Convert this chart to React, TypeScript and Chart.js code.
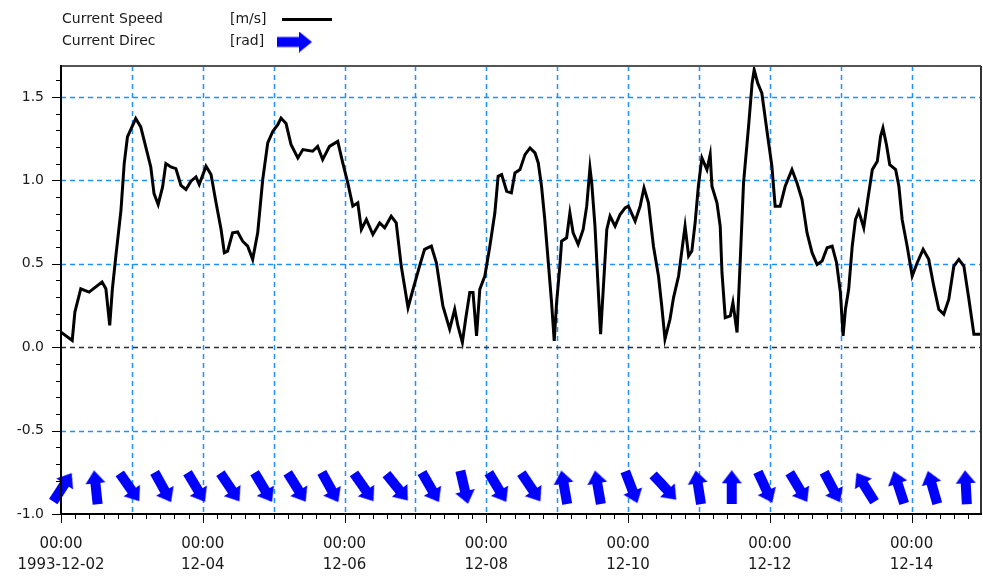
import React, { useEffect, useRef } from 'react';
import { Chart, registerables } from 'chart.js';

Chart.register(...registerables);

const W = 983;
const H = 579;

// ---- data (hours since 1993-12-02 00:00) ----
const speedHours = [
  0, 3.8, 4.7, 6.7, 9.5, 13.9, 15.2, 16.5, 17.4, 18.6,
  20.3, 21.4, 22.5, 25.3, 27.0, 28.7, 30.4, 31.5, 32.9, 34.4,
  35.5, 37.2, 38.9, 40.6, 42.3, 44.0, 45.7, 46.8, 49.1, 50.8,
  52.5, 54.2, 55.3, 56.4, 58.1, 59.8, 61.5, 63.2, 64.9, 66.6,
  68.3, 70.0, 71.7, 73.4, 74.5, 76.2, 77.9, 80.2, 81.9, 85.2,
  86.9, 88.6, 90.9, 93.7, 95.4, 97.1, 98.8, 100.5, 101.7, 103.4,
  105.6, 107.9, 109.6, 111.8, 113.5, 115.2, 117.5, 119.2, 121.4, 123.1,
  125.4, 127.1, 129.3, 131.6, 133.3, 134.4, 135.9, 137.0, 138.4, 139.5,
  140.7, 141.8, 143.5, 145.2, 146.9, 148.0, 149.2, 150.9, 152.5, 153.7,
  155.4, 157.1, 158.8, 160.5, 161.6, 162.7, 163.8, 165.0, 166.1, 167.0,
  167.8, 168.9, 169.5, 171.2, 172.3, 173.4, 175.1, 176.8, 178.0, 179.1,
  179.7, 180.8, 181.9, 182.7, 183.6, 184.8, 185.9, 187.6, 189.3, 191.0,
  192.1, 194.4, 196.1, 197.4, 198.9, 200.6, 202.3, 203.4, 204.5, 206.2,
  207.4, 209.1, 210.2, 211.3, 212.5, 213.6, 214.7, 215.8, 217.0, 218.7,
  219.8, 220.4, 222.1, 223.2, 223.8, 224.9, 226.6, 227.5, 228.9, 230.0,
  231.1, 232.8, 234.0, 234.7, 235.9, 237.3, 239.0, 240.7, 241.8, 243.5,
  245.2, 247.5, 249.2, 250.9, 252.6, 254.3, 256.0, 257.7, 259.4, 261.1,
  262.6, 263.9, 264.8, 265.6, 266.7, 267.9, 269.0, 270.1, 271.8, 273.0,
  274.7, 276.4, 277.5, 278.3, 279.5, 280.6, 282.6, 283.7, 284.8, 286.5,
  288.2, 289.9, 291.9, 293.8, 295.5, 297.2, 298.9, 300.6, 302.3, 304.0,
  305.7, 307.4, 309.1, 311.9,
];

const speedValues = [
  0.09, 0.04, 0.21, 0.35, 0.33, 0.39, 0.35, 0.13, 0.35, 0.55,
  0.82, 1.10, 1.26, 1.37, 1.32, 1.20, 1.08, 0.92, 0.855, 0.96,
  1.10, 1.08, 1.07, 0.97, 0.945, 0.995, 1.02, 0.975, 1.085, 1.035,
  0.865, 0.705, 0.566, 0.575, 0.685, 0.69, 0.635, 0.605, 0.526, 0.685,
  1.004, 1.224, 1.293, 1.333, 1.373, 1.34, 1.213, 1.134, 1.184, 1.174,
  1.203, 1.124, 1.203, 1.233, 1.104, 0.984, 0.845, 0.865, 0.705, 0.765,
  0.675, 0.745, 0.715, 0.785, 0.745, 0.486, 0.237, 0.347, 0.486, 0.586,
  0.605, 0.506, 0.247, 0.108, 0.227, 0.127, 0.028, 0.167, 0.327, 0.327,
  0.068, 0.347, 0.426, 0.605, 0.805, 1.024, 1.034, 0.934, 0.925, 1.044,
  1.064, 1.154, 1.194, 1.164, 1.104, 0.964, 0.765, 0.506, 0.267, 0.038,
  0.267, 0.486, 0.635, 0.655, 0.805, 0.685, 0.616, 0.705, 0.845, 1.074,
  0.984, 0.725, 0.347, 0.078, 0.347, 0.705, 0.785, 0.725, 0.795, 0.835,
  0.845, 0.755, 0.845, 0.955, 0.865, 0.605, 0.426, 0.247, 0.048, 0.167,
  0.297, 0.426, 0.576, 0.725, 0.546, 0.576, 0.745, 0.964, 1.134, 1.064,
  1.154, 0.964, 0.865, 0.725, 0.446, 0.177, 0.187, 0.267, 0.088, 0.526,
  0.984, 1.323, 1.582, 1.662, 1.582, 1.522, 1.30, 1.084, 0.845, 0.845,
  0.964, 1.064, 0.984, 0.885, 0.685, 0.566, 0.496, 0.516, 0.596, 0.605,
  0.506, 0.327, 0.068, 0.227, 0.347, 0.605, 0.765, 0.815, 0.715, 0.865,
  1.064, 1.114, 1.263, 1.313, 1.213, 1.094, 1.064, 0.964, 0.765, 0.605,
  0.426, 0.506, 0.586, 0.526, 0.367, 0.227, 0.197, 0.287, 0.486, 0.526,
  0.486, 0.287, 0.078, 0.078,
];

const arrowHours = [
  0.5, 11.8, 23.2, 34.5, 45.8, 57.2, 68.5, 79.8, 91.1, 102.5,
  113.8, 125.1, 136.5, 147.8, 159.1, 170.4, 181.8, 193.1, 204.4, 215.8,
  227.1, 238.4, 249.7, 261.1, 272.4, 283.7, 295.1, 306.4,
];

// pointing direction, degrees clockwise from up
const arrowDirectionDeg = [
  33, 354, 145, 151, 149, 146, 149, 148, 151, 145,
  141, 150, 167, 149, 146, 350, 350, 159, 137, 351,
  0, 155, 149, 152, 328, 342, 344, 357,
];

const xTickTimeLabel = '00:00';
const xTickDateLabels = ['1993-12-02', '12-04', '12-06', '12-08', '12-10', '12-12', '12-14'];
const legendNames = ['Current Speed', 'Current Direc'];
const legendUnits = ['[m/s]', '[rad]'];

const X_MAX = 311.5;
const Y_MIN = -1.0;
const Y_MAX = 1.685;
const ARROW_LEVEL = -0.84;

const FONT = '"DejaVu Sans", "Noto Sans", sans-serif';
const TEXT = '#1a1a1a';
const GRID = '#1e90ff';
const BLUE = '#0000ff';

function makeArrow(len: number, headW: number, headL: number, shaftW: number) {
  const c = document.createElement('canvas');
  c.width = headW;
  c.height = len;
  const g = c.getContext('2d')!;
  g.fillStyle = BLUE;
  const m = headW / 2;
  g.beginPath();
  g.moveTo(m, 0);
  g.lineTo(headW, headL);
  g.lineTo(m + shaftW / 2, headL);
  g.lineTo(m + shaftW / 2, len);
  g.lineTo(m - shaftW / 2, len);
  g.lineTo(m - shaftW / 2, headL);
  g.lineTo(0, headL);
  g.closePath();
  g.fill();
  return c;
}

const gridPlugin = {
  id: 'gridPlugin',
  beforeDatasetsDraw(chart: any) {
    const { ctx, chartArea: a, scales } = chart;
    const x = scales.x;
    const y = scales.y;
    ctx.save();
    ctx.lineWidth = 1.5;
    ctx.strokeStyle = GRID;
    ctx.setLineDash([5, 4]);
    for (let h = 24; h < X_MAX; h += 24) {
      const px = Math.round(x.getPixelForValue(h)) + 0.5;
      ctx.beginPath();
      ctx.moveTo(px, a.top);
      ctx.lineTo(px, a.bottom);
      ctx.stroke();
    }
    for (let k = -1; k <= 3; k++) {
      if (k === 0) continue;
      const py = Math.round(y.getPixelForValue(k * 0.5)) + 0.5;
      ctx.beginPath();
      ctx.moveTo(a.left, py);
      ctx.lineTo(a.right, py);
      ctx.stroke();
    }
    // zero reference line
    ctx.strokeStyle = '#303030';
    ctx.lineWidth = 1.5;
    const p0 = Math.round(y.getPixelForValue(0)) + 0.5;
    ctx.beginPath();
    ctx.moveTo(a.left, p0);
    ctx.lineTo(a.right, p0);
    ctx.stroke();
    ctx.restore();
  },
};

const framePlugin = {
  id: 'framePlugin',
  afterDraw(chart: any) {
    const { ctx, chartArea: a, scales } = chart;
    const x = scales.x;
    const y = scales.y;
    ctx.save();
    ctx.setLineDash([]);
    // top & right border
    ctx.lineWidth = 2;
    ctx.strokeStyle = '#555555';
    ctx.beginPath();
    ctx.moveTo(a.left, a.top);
    ctx.lineTo(a.right, a.top);
    ctx.stroke();
    ctx.strokeStyle = '#333333';
    ctx.beginPath();
    ctx.moveTo(a.right, a.top);
    ctx.lineTo(a.right, a.bottom);
    ctx.stroke();
    // axes
    ctx.strokeStyle = '#000000';
    ctx.beginPath();
    ctx.moveTo(a.left, a.top - 1);
    ctx.lineTo(a.left, a.bottom + 1);
    ctx.moveTo(a.left - 1, a.bottom);
    ctx.lineTo(a.right + 1, a.bottom);
    ctx.stroke();
    // ticks
    ctx.lineWidth = 1;
    ctx.beginPath();
    for (let k = -10; k <= 16; k++) {
      const py = Math.round(y.getPixelForValue(k / 10)) + 0.5;
      const len = k % 5 === 0 ? 9 : 5;
      ctx.moveTo(a.left - len, py);
      ctx.lineTo(a.left, py);
    }
    for (let k = 0; k * 4.8 <= X_MAX; k++) {
      const px = Math.round(x.getPixelForValue(k * 4.8)) + 0.5;
      const len = k % 10 === 0 ? 9 : 5;
      ctx.moveTo(px, a.bottom);
      ctx.lineTo(px, a.bottom + len);
    }
    ctx.stroke();

    // legend
    ctx.fillStyle = TEXT;
    ctx.font = `14px ${FONT}`;
    ctx.textBaseline = 'middle';
    ctx.textAlign = 'left';
    const rows = [19, 41];
    legendNames.forEach((n, i) => {
      ctx.fillText(n, 62, rows[i]);
      ctx.fillText(legendUnits[i], 230, rows[i]);
    });
    ctx.strokeStyle = '#000';
    ctx.lineWidth = 3;
    ctx.beginPath();
    ctx.moveTo(282, rows[0] + 0.5);
    ctx.lineTo(332, rows[0] + 0.5);
    ctx.stroke();
    const leg = makeArrow(35, 21, 13, 10);
    ctx.translate(294.5, rows[1] + 1);
    ctx.rotate(Math.PI / 2);
    ctx.drawImage(leg, -leg.width / 2, -leg.height / 2);
    ctx.restore();
  },
};

export default function App() {
  const ref = useRef<HTMLCanvasElement>(null);

  useEffect(() => {
    const arrowImg = makeArrow(34, 20, 13, 10);
    const chart = new Chart(ref.current!, {
      type: 'scatter',
      data: {
        datasets: [
          {
            label: 'Current Speed',
            data: speedHours.map((h, i) => ({ x: h, y: speedValues[i] })),
            showLine: true,
            borderColor: '#000000',
            borderWidth: 3,
            pointRadius: 0,
            tension: 0,
            order: 2,
          } as any,
          {
            label: 'Current Direc',
            data: arrowHours.map((h) => ({ x: h, y: ARROW_LEVEL })),
            showLine: false,
            pointStyle: arrowImg,
            pointRadius: 3,
            pointRotation: arrowDirectionDeg,
            clip: false,
            order: 1,
          } as any,
        ],
      },
      options: {
        responsive: false,
        devicePixelRatio: 1,
        animation: false,
        events: [],
        layout: { autoPadding: false, padding: { top: 66, right: 2, left: 0, bottom: 0 } },
        plugins: { legend: { display: false }, tooltip: { enabled: false } },
        scales: {
          x: {
            type: 'linear',
            min: 0,
            max: X_MAX,
            grid: { display: false, drawTicks: false },
            border: { display: false },
            afterFit: (s: any) => {
              s.height = 65;
              s.paddingLeft = 0;
              s.paddingRight = 0;
            },
            ticks: {
              stepSize: 48,
              autoSkip: false,
              maxRotation: 0,
              includeBounds: false,
              padding: 20,
              color: TEXT,
              font: { family: FONT, size: 15, lineHeight: 1.4 },
              callback: (v: any) => {
                const i = Math.round(Number(v) / 48);
                return [xTickTimeLabel, xTickDateLabels[i] ?? ''];
              },
            },
          },
          y: {
            type: 'linear',
            min: Y_MIN,
            max: Y_MAX,
            grid: { display: false, drawTicks: false },
            border: { display: false },
            afterFit: (s: any) => {
              s.width = 61;
              s.paddingTop = 0;
              s.paddingBottom = 0;
            },
            ticks: {
              stepSize: 0.5,
              includeBounds: false,
              padding: 17,
              color: TEXT,
              font: { family: FONT, size: 14 },
              callback: (v: any) => Number(v).toFixed(1),
            },
          },
        },
      } as any,
      plugins: [gridPlugin, framePlugin],
    });
    return () => chart.destroy();
  }, []);

  return (
    <div style={{ position: 'absolute', left: 0, top: 0, width: W, height: H, background: '#ffffff' }}>
      <canvas ref={ref} width={W} height={H} style={{ display: 'block', width: W, height: H }} />
    </div>
  );
}
